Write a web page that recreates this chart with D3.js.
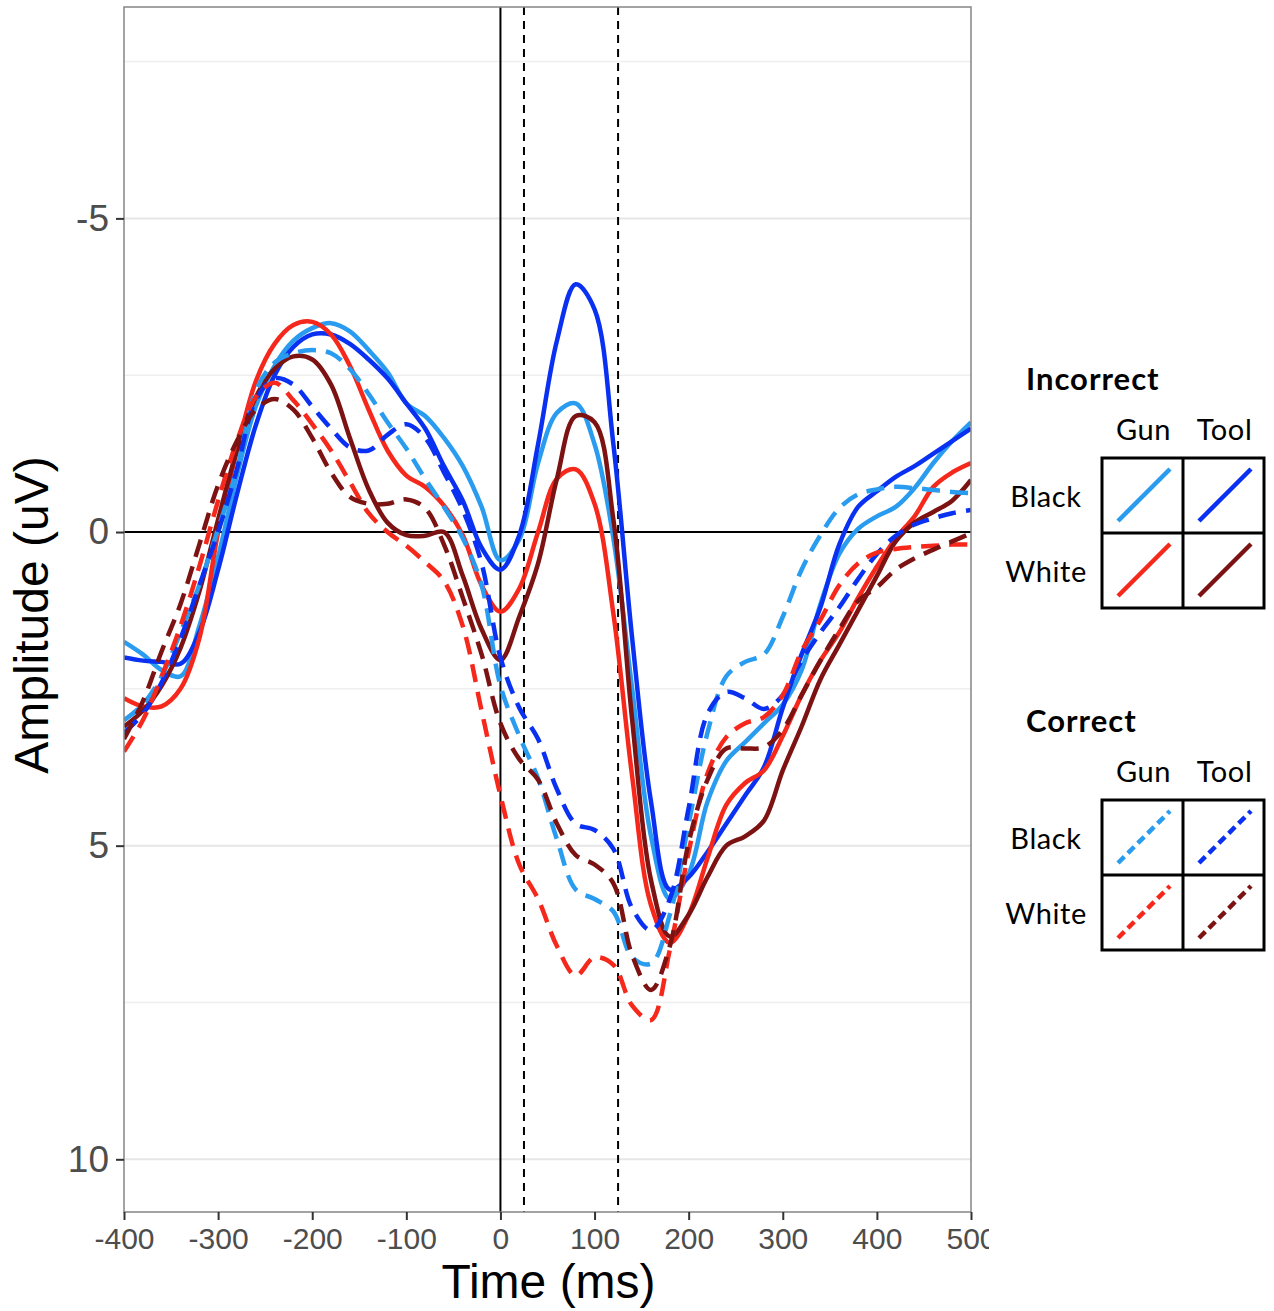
<!DOCTYPE html>
<html>
<head>
<meta charset="utf-8">
<script src="https://cdn.jsdelivr.net/npm/d3@7"></script>
<style>
  body { margin: 0; background: #fff; }
  svg { display: block; }
</style>
</head>
<body>
<div id="chart"></div>
<script>
// time points (ms)
var times = [-400,-380,-360,-340,-320,-300,-280,-260,-240,-220,-200,-180,-160,-140,-120,-100,-80,-60,-40,-20,
             0,20,40,60,80,100,120,140,160,180,200,220,240,260,280,300,320,340,360,380,400,420,440,460,480,500];

// Incorrect (solid)
var incBlackGun = [1.75,1.95,2.2,2.3,1.5,0.4,-0.9,-2.0,-2.65,-3.05,-3.25,-3.33,-3.2,-2.9,-2.55,-2.05,-1.85,-1.5,-1.05,-0.4,
                   0.45,0.12,-1.1,-1.9,-2.05,-1.4,0.1,2.5,4.85,5.85,5.45,4.3,3.65,3.35,3.05,2.75,2.2,1.15,0.35,-0.05,-0.25,-0.4,-0.7,-1.1,-1.45,-1.75];
var incBlackTool = [2.0,2.05,2.07,2.1,1.6,0.6,-0.6,-1.7,-2.5,-2.95,-3.15,-3.15,-3.0,-2.75,-2.45,-2.05,-1.65,-1.05,-0.5,0.25,
                    0.6,0.05,-1.4,-3.05,-3.95,-3.55,-1.4,1.7,4.3,5.7,5.5,5.1,4.65,4.2,3.75,2.8,1.95,1.2,0.2,-0.4,-0.65,-0.88,-1.05,-1.25,-1.45,-1.65];
var incWhiteGun = [2.65,2.78,2.78,2.5,1.7,0.0,-1.3,-2.4,-3.0,-3.3,-3.35,-3.15,-2.65,-1.95,-1.3,-0.9,-0.72,-0.42,0.05,0.85,
                   1.27,0.9,0.0,-0.85,-1.0,-0.45,1.3,3.9,5.95,6.55,6.1,5.2,4.35,4.0,3.8,3.25,2.6,2.05,1.6,1.05,0.55,0.1,-0.25,-0.72,-0.95,-1.1];
var incWhiteTool = [3.1,2.85,2.45,1.85,0.95,-0.2,-1.3,-2.15,-2.6,-2.8,-2.75,-2.35,-1.5,-0.68,-0.15,0.05,0.06,0.0,0.7,1.55,
                    2.04,1.35,0.5,-0.85,-1.85,-1.75,-0.2,3.0,5.55,6.45,6.1,5.5,5.0,4.85,4.6,3.8,3.1,2.35,1.8,1.25,0.7,0.15,-0.15,-0.32,-0.5,-0.83];

// Correct (dashed)
var corBlackGun = [3.0,2.75,2.3,1.6,0.85,-0.05,-1.0,-2.25,-2.7,-2.85,-2.9,-2.85,-2.6,-2.2,-1.75,-1.33,-0.85,-0.4,0.1,0.85,
                   2.45,3.25,3.93,4.9,5.7,5.85,6.05,6.78,6.88,6.1,4.65,3.2,2.3,2.07,1.95,1.35,0.6,0.05,-0.38,-0.6,-0.68,-0.72,-0.7,-0.67,-0.64,-0.62];
var corBlackTool = [3.2,2.9,2.4,1.7,0.85,0.0,-1.0,-2.1,-2.45,-2.35,-2.0,-1.65,-1.35,-1.3,-1.55,-1.72,-1.5,-0.95,-0.35,0.5,
                    2.0,2.8,3.3,4.1,4.65,4.75,5.05,6.0,6.35,5.85,4.4,2.9,2.55,2.65,2.82,2.6,2.05,1.6,1.2,0.75,0.35,0.06,-0.12,-0.22,-0.3,-0.35];
var corWhiteGun = [3.5,3.0,2.3,1.5,0.55,-0.5,-1.45,-2.15,-2.38,-2.1,-1.72,-1.3,-0.8,-0.3,0.0,0.22,0.48,0.78,1.5,2.85,
                   4.2,5.3,5.85,6.6,7.07,6.78,6.9,7.55,7.78,6.66,5.1,3.85,3.27,3.05,2.95,2.6,1.9,1.4,0.85,0.5,0.33,0.27,0.24,0.22,0.2,0.2];
var corWhiteTool = [3.3,2.7,1.9,1.15,0.2,-0.75,-1.45,-1.95,-2.12,-1.95,-1.5,-0.95,-0.56,-0.45,-0.45,-0.52,-0.38,0.2,1.05,1.95,
                    3.05,3.62,3.95,4.65,5.15,5.3,5.6,6.75,7.3,6.6,4.95,3.95,3.45,3.45,3.43,3.15,2.6,2.05,1.55,1.1,0.88,0.6,0.42,0.28,0.15,0.02];

var xTicks = [-400,-300,-200,-100,0,100,200,300,400,500];
var yTicks = [-5,0,5,10];
var yMinor = [-7.5,-2.5,2.5,7.5];
var windowLines = [25,125];

var legendRows = ["Black","White"];
var legendCols = ["Gun","Tool"];
var legendGroups = ["Incorrect","Correct"];

var series = [
  {race:"Black", obj:"Gun",  acc:"Incorrect", color:"#2a9cf0", values:incBlackGun},
  {race:"Black", obj:"Tool", acc:"Incorrect", color:"#0a31f2", values:incBlackTool},
  {race:"White", obj:"Gun",  acc:"Incorrect", color:"#f5281b", values:incWhiteGun},
  {race:"White", obj:"Tool", acc:"Incorrect", color:"#7d1212", values:incWhiteTool},
  {race:"Black", obj:"Gun",  acc:"Correct",   color:"#2a9cf0", values:corBlackGun},
  {race:"Black", obj:"Tool", acc:"Correct",   color:"#0a31f2", values:corBlackTool},
  {race:"White", obj:"Gun",  acc:"Correct",   color:"#f5281b", values:corWhiteGun},
  {race:"White", obj:"Tool", acc:"Correct",   color:"#7d1212", values:corWhiteTool}
];

function init(){
  var W = 1274, H = 1311;
  var left = 124, right = 971, top = 7, bottom = 1212;
  var plain = function(d){ return String(d); };   // hyphen minus, like the original

  var x = d3.scaleLinear().domain([-400, 500]).range([left, right]);
  var y = d3.scaleLinear().domain([-8.37, 10.84]).range([top, bottom]);

  var svg = d3.select("#chart").append("svg")
    .attr("width", W).attr("height", H);

  svg.append("defs").append("clipPath").attr("id", "panel")
    .append("rect").attr("x", left).attr("y", top)
    .attr("width", right - left).attr("height", bottom - top);

  // grid
  svg.selectAll("line.minor").data(yMinor).enter().append("line")
    .attr("class", "minor")
    .attr("x1", left).attr("x2", right)
    .attr("y1", function(d){ return y(d); }).attr("y2", function(d){ return y(d); })
    .attr("stroke", "#efefef").attr("stroke-width", 1.5);
  svg.selectAll("line.major").data(yTicks).enter().append("line")
    .attr("class", "major")
    .attr("x1", left).attr("x2", right)
    .attr("y1", function(d){ return y(d); }).attr("y2", function(d){ return y(d); })
    .attr("stroke", "#e6e6e6").attr("stroke-width", 2);

  // reference lines
  svg.append("line")
    .attr("x1", left).attr("x2", right).attr("y1", y(0)).attr("y2", y(0))
    .attr("stroke", "#000").attr("stroke-width", 2);
  svg.append("line")
    .attr("x1", x(0)).attr("x2", x(0)).attr("y1", top).attr("y2", bottom)
    .attr("stroke", "#000").attr("stroke-width", 2);
  svg.selectAll("line.win").data(windowLines).enter().append("line")
    .attr("class", "win")
    .attr("x1", function(d){ return x(d); }).attr("x2", function(d){ return x(d); })
    .attr("y1", top).attr("y2", bottom)
    .attr("stroke", "#000").attr("stroke-width", 2).attr("stroke-dasharray", "8,6");

  // waveforms
  var line = d3.line()
    .x(function(d, i){ return x(times[i]); })
    .y(function(d){ return y(d); })
    .curve(d3.curveCatmullRom.alpha(0.5));

  svg.append("g").attr("clip-path", "url(#panel)")
    .selectAll("path").data(series).enter().append("path")
    .attr("d", function(d){ return line(d.values); })
    .attr("fill", "none")
    .attr("stroke", function(d){ return d.color; })
    .attr("stroke-width", 4.5)
    .attr("stroke-linejoin", "round")
    .attr("stroke-dasharray", function(d){ return d.acc == "Correct" ? "18,10" : null; });

  // panel border
  svg.append("rect")
    .attr("x", left).attr("y", top).attr("width", right - left).attr("height", bottom - top)
    .attr("fill", "none").attr("stroke", "#858585").attr("stroke-width", 1.5);

  // axes
  var yAxis = svg.append("g")
    .attr("transform", "translate(" + left + ",0)")
    .call(d3.axisLeft(y).tickValues(yTicks).tickFormat(plain).tickSize(8).tickPadding(7));
  yAxis.select(".domain").remove();
  yAxis.selectAll("line").attr("stroke", "#333").attr("stroke-width", 2);
  yAxis.selectAll("text").attr("font-family", "'Liberation Sans', Arial, sans-serif")
    .attr("font-size", 37).attr("fill", "#4d4d4d");

  var xAxis = svg.append("g")
    .attr("transform", "translate(0," + bottom + ")")
    .call(d3.axisBottom(x).tickValues(xTicks).tickFormat(plain).tickSize(8).tickPadding(8));
  xAxis.select(".domain").remove();
  xAxis.selectAll("line").attr("stroke", "#333").attr("stroke-width", 2);
  xAxis.selectAll("text").attr("font-family", "'Liberation Sans', Arial, sans-serif")
    .attr("font-size", 30).attr("fill", "#4d4d4d");

  // the legend panel hides the end of the last label
  svg.append("rect").attr("x", 989).attr("y", bottom + 10).attr("width", 60).attr("height", 50)
    .attr("fill", "#fff");

  // axis titles
  svg.append("text")
    .attr("x", (left + right) / 2 + 1).attr("y", 1298)
    .attr("text-anchor", "middle")
    .attr("font-family", "'Liberation Sans', Arial, sans-serif")
    .attr("font-size", 48).attr("fill", "#000")
    .text("Time (ms)");
  svg.append("text")
    .attr("transform", "translate(48," + 615 + ") rotate(-90)")
    .attr("text-anchor", "middle")
    .attr("font-family", "'Liberation Sans', Arial, sans-serif")
    .attr("font-size", 48).attr("fill", "#000")
    .text("Amplitude (uV)");

  // legends
  var cellW = 81, cellH = 75;
  legendGroups.forEach(function(g, gi){
    var oy = gi * 342;
    var lg = svg.append("g").attr("transform", "translate(0," + oy + ")");
    var bx = 1102, by = 458;

    lg.append("text").attr("x", 1026).attr("y", 390)
      .attr("font-family", "Lato, 'Open Sans', sans-serif").attr("font-weight", "bold")
      .attr("font-size", 31).attr("letter-spacing", 1).attr("fill", "#000").text(g);

    lg.selectAll("text.col").data(legendCols).enter().append("text")
      .attr("class", "col")
      .attr("x", function(d, i){ return bx + cellW * i + cellW / 2 + 1; })
      .attr("y", 440)
      .attr("text-anchor", "middle")
      .attr("font-family", "Lato, 'Open Sans', sans-serif").attr("letter-spacing", 0.6)
      .attr("font-size", 29).attr("fill", "#000").text(function(d){ return d; });

    lg.selectAll("text.row").data(legendRows).enter().append("text")
      .attr("class", "row")
      .attr("x", 1046)
      .attr("y", function(d, i){ return by + cellH * i + cellH / 2 + 11; })
      .attr("text-anchor", "middle")
      .attr("font-family", "Lato, 'Open Sans', sans-serif").attr("letter-spacing", 0.6)
      .attr("font-size", 29).attr("fill", "#000").text(function(d){ return d; });

    var items = series.filter(function(s){ return s.acc == g; });
    lg.selectAll("line.key").data(items).enter().append("line")
      .attr("class", "key")
      .attr("x1", function(d){ return bx + cellW * legendCols.indexOf(d.obj) + 16; })
      .attr("x2", function(d){ return bx + cellW * legendCols.indexOf(d.obj) + 68; })
      .attr("y1", function(d){ return by + cellH * legendRows.indexOf(d.race) + 63; })
      .attr("y2", function(d){ return by + cellH * legendRows.indexOf(d.race) + 11; })
      .attr("stroke", function(d){ return d.color; })
      .attr("stroke-width", 4.5)
      .attr("stroke-dasharray", g == "Correct" ? "9,5" : null);

    lg.append("rect").attr("x", bx).attr("y", by)
      .attr("width", cellW * 2).attr("height", cellH * 2)
      .attr("fill", "none").attr("stroke", "#000").attr("stroke-width", 3);
    lg.append("line").attr("x1", bx + cellW).attr("x2", bx + cellW)
      .attr("y1", by).attr("y2", by + cellH * 2)
      .attr("stroke", "#000").attr("stroke-width", 3);
    lg.append("line").attr("x1", bx).attr("x2", bx + cellW * 2)
      .attr("y1", by + cellH).attr("y2", by + cellH)
      .attr("stroke", "#000").attr("stroke-width", 3);
  });
}

window.onload = init;
</script>
</body>
</html>
